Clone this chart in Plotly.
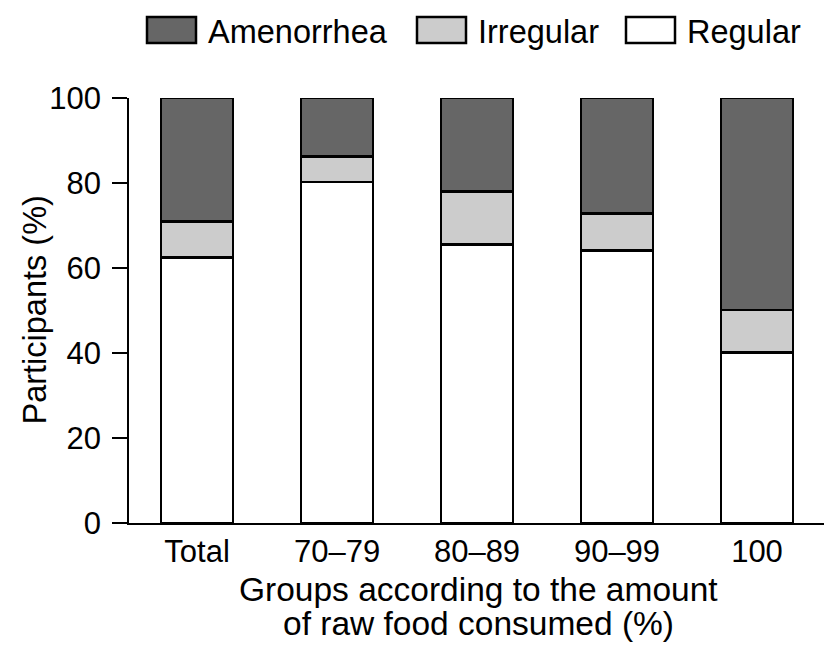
import plotly.graph_objects as go

categories = ["Total", "70\u201379", "80\u201389", "90\u201399", "100"]
regular = [62.5, 80.2, 65.5, 64.1, 40.1]
irregular = [8.5, 6.0, 12.5, 8.7, 10.0]
amenorrhea = [29.0, 13.8, 22.0, 27.2, 49.9]

series_names = ["Regular", "Irregular", "Amenorrhea"]
series_values = [regular, irregular, amenorrhea]
series_colors = ["#ffffff", "#cccccc", "#666666"]

x_title_lines = ["Groups according to the amount", "of raw food consumed (%)"]
y_title = "Participants (%)"

FONT = "Liberation Sans, Arial, Helvetica, sans-serif"

# page has an 8px body margin; figure is sized to fit inside the window
OFF = 8
W, H = 824, 648
L, R, T, B = 121, 5, 90, 133
pw, ph = W - L - R, H - T - B


def px2x(p):
    return (p - OFF - L) / pw


def py2y(p):
    return (H - B - (p - OFF)) / ph


fig = go.Figure()
for name, vals, col in zip(series_names, series_values, series_colors):
    fig.add_trace(go.Bar(
        x=categories, y=vals, name=name,
        marker=dict(color=col, line=dict(color="#000000", width=2.5)),
        width=0.514, showlegend=False,
    ))

# custom legend (swatch + label)
legend_order = ["Amenorrhea", "Irregular", "Regular"]
legend_left = [147, 417, 626]
for name, x0 in zip(legend_order, legend_left):
    col = series_colors[series_names.index(name)]
    fig.add_shape(type="rect", xref="paper", yref="paper",
                  x0=px2x(x0), x1=px2x(x0 + 49), y0=py2y(43), y1=py2y(17),
                  fillcolor=col, line=dict(color="#000000", width=2.5))
    fig.add_annotation(xref="paper", yref="paper", x=px2x(x0 + 59), y=py2y(32),
                       text=name, showarrow=False, xanchor="left", yanchor="middle",
                       font=dict(family=FONT, size=32.5, color="#000000"))

# axis titles
for line, yc in zip(x_title_lines, [589, 623]):
    fig.add_annotation(xref="paper", yref="paper", x=0.5, y=py2y(yc),
                       text=line, showarrow=False, xanchor="center", yanchor="middle",
                       font=dict(family=FONT, size=33.5, color="#000000"))
fig.add_annotation(xref="paper", yref="paper", x=px2x(34), y=0.5,
                   text=y_title, showarrow=False, textangle=-90,
                   xanchor="center", yanchor="middle",
                   font=dict(family=FONT, size=32.5, color="#000000"))

fig.update_layout(
    barmode="stack",
    width=W, height=H,
    margin=dict(l=L, r=R, t=T, b=B, pad=0),
    paper_bgcolor="white", plot_bgcolor="white",
    font=dict(family=FONT, size=31, color="#000000"),
    xaxis=dict(
        range=[-0.486, 4.5], showgrid=False, zeroline=False,
        showline=True, linecolor="#000000", linewidth=1.5,
        ticks="", ticklabelstandoff=0,
        tickfont=dict(size=31),
    ),
    yaxis=dict(
        range=[0, 100], tickvals=[0, 20, 40, 60, 80, 100], showgrid=False,
        zeroline=False, showline=True, linecolor="#000000", linewidth=1.5,
        ticks="outside", ticklen=15, tickwidth=1.5, tickcolor="#000000",
        ticklabelstandoff=5, tickfont=dict(size=31),
    ),
)

fig.write_html("out.html")
